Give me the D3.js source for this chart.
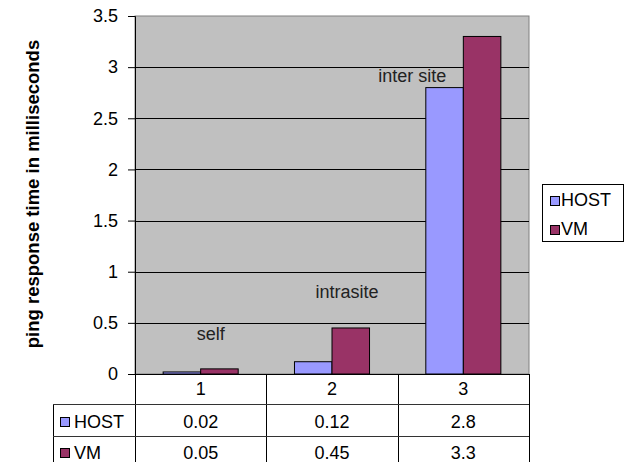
<!DOCTYPE html>
<html>
<head>
<meta charset="utf-8">
<script src="https://cdn.jsdelivr.net/npm/d3@7"></script>
<style>
  body { margin: 0; background: #fff; }
  svg { display: block; font-family: 'Liberation Sans', Arial, sans-serif; }
</style>
</head>
<body>
<svg id="chart"></svg>
<script>
const categories = ['1', '2', '3'];
const seriesNames = ['HOST', 'VM'];
const hostValues = [0.02, 0.12, 2.8];
const vmValues = [0.05, 0.45, 3.3];
const yTicks = [0, 0.5, 1, 1.5, 2, 2.5, 3, 3.5];
const noteText = ['self', 'intrasite', 'inter site'];
const noteValues = [0.33, 0.74, 2.85];

const colors = { HOST: '#9999ff', VM: '#993366' };
const seriesValues = { HOST: hostValues, VM: vmValues };

const W = 627, H = 462;
const plot = { left: 135, right: 529, top: 16, bottom: 374 };

const svg = d3.select('#chart')
    .attr('width', W)
    .attr('height', H);

const x0 = d3.scaleBand()
    .domain(categories)
    .range([plot.left, plot.right])
    .padding(0);

const gap = x0.bandwidth() * 0.75 / 3.5;
const x1 = d3.scaleBand()
    .domain(seriesNames)
    .range([gap, x0.bandwidth() - gap])
    .padding(0);

const y = d3.scaleLinear()
    .domain([0, 3.5])
    .range([plot.bottom, plot.top]);

// plot background
svg.append('rect')
    .attr('x', plot.left)
    .attr('y', plot.top)
    .attr('width', plot.right - plot.left)
    .attr('height', plot.bottom - plot.top)
    .attr('fill', '#c0c0c0')
    .attr('stroke', '#808080')
    .attr('stroke-width', 1);

// gridlines
svg.append('g')
    .selectAll('line')
    .data(yTicks.filter(t => t > 0 && t < 3.5))
    .enter().append('line')
    .attr('x1', plot.left)
    .attr('x2', plot.right)
    .attr('y1', d => Math.round(y(d)) + 0.5)
    .attr('y2', d => Math.round(y(d)) + 0.5)
    .attr('stroke', '#000');

// bars
const groups = svg.append('g')
    .selectAll('g')
    .data(categories)
    .enter().append('g')
    .attr('transform', d => `translate(${x0(d)},0)`);

groups.selectAll('rect')
    .data((d, i) => seriesNames.map(s => ({ s, v: seriesValues[s][i] })))
    .enter().append('rect')
    .attr('x', d => x1(d.s))
    .attr('y', d => y(d.v))
    .attr('width', x1.bandwidth())
    .attr('height', d => y(0) - y(d.v))
    .attr('fill', d => colors[d.s])
    .attr('stroke', '#000')
    .attr('stroke-width', 1);

// notes over bars
const noteDx = [10, 15, -51];
svg.append('g')
    .selectAll('text')
    .data(noteText)
    .enter().append('text')
    .attr('x', (d, i) => x0(categories[i]) + x0.bandwidth() / 2 + noteDx[i])
    .attr('y', (d, i) => y(noteValues[i]))
    .attr('text-anchor', 'middle')
    .attr('font-size', 18)
    .attr('fill', '#222')
    .text(d => d);

// y axis
const yAxis = svg.append('g')
    .attr('transform', `translate(${plot.left},0)`)
    .call(d3.axisLeft(y).tickValues(yTicks).tickSize(7).tickPadding(10).tickFormat(d3.format('')));
yAxis.select('.domain').attr('stroke', '#000');
yAxis.selectAll('.tick line').attr('stroke', '#000');
yAxis.selectAll('text')
    .attr('font-size', 18)
    .attr('font-family', "'Liberation Sans', Arial, sans-serif")
    .attr('fill', '#000');

// x axis line
svg.append('line')
    .attr('x1', plot.left - 7)
    .attr('x2', plot.right)
    .attr('y1', plot.bottom + 0.5)
    .attr('y2', plot.bottom + 0.5)
    .attr('stroke', '#000');

// y title
svg.append('text')
    .attr('transform', 'translate(39,194) rotate(-90)')
    .attr('text-anchor', 'middle')
    .attr('font-size', 18.5)
    .attr('font-weight', 'bold')
    .attr('fill', '#000')
    .text('ping response time in milliseconds');

// data table
const table = svg.append('g');
const rowTop = 404, rowH = 32, tableLeft = 53;
const colEdges = [plot.left].concat(categories.map(c => x0(c) + x0.bandwidth()));

table.selectAll('.vline')
    .data(colEdges)
    .enter().append('line')
    .attr('x1', d => Math.round(d) + 0.5)
    .attr('x2', d => Math.round(d) + 0.5)
    .attr('y1', plot.bottom)
    .attr('y2', H)
    .attr('stroke', '#000');

table.append('line')
    .attr('x1', tableLeft + 0.5).attr('x2', tableLeft + 0.5)
    .attr('y1', rowTop).attr('y2', H)
    .attr('stroke', '#000');

[rowTop, rowTop + rowH].forEach(yy => {
    table.append('line')
        .attr('x1', tableLeft)
        .attr('x2', plot.right)
        .attr('y1', yy + 0.5)
        .attr('y2', yy + 0.5)
        .attr('stroke', '#333');
});

table.selectAll('.cat')
    .data(categories)
    .enter().append('text')
    .attr('x', d => x0(d) + x0.bandwidth() / 2)
    .attr('y', 395)
    .attr('text-anchor', 'middle')
    .attr('font-size', 18)
    .text(d => d);

seriesNames.forEach((s, r) => {
    const base = 428 + r * 31;
    table.append('rect')
        .attr('x', 60.5)
        .attr('y', base - 10.5)
        .attr('width', 9)
        .attr('height', 9)
        .attr('fill', colors[s])
        .attr('stroke', '#000');
    table.append('text')
        .attr('x', 74)
        .attr('y', base)
        .attr('font-size', 18)
        .text(s);
    table.selectAll('.v' + s)
        .data(seriesValues[s])
        .enter().append('text')
        .attr('x', (d, i) => x0(categories[i]) + x0.bandwidth() / 2)
        .attr('y', base)
        .attr('text-anchor', 'middle')
        .attr('font-size', 18)
        .text(d => d);
});

// legend
const legend = svg.append('g');
legend.append('rect')
    .attr('x', 542.5)
    .attr('y', 184.5)
    .attr('width', 81)
    .attr('height', 57)
    .attr('fill', '#fff')
    .attr('stroke', '#000');

seriesNames.forEach((s, i) => {
    const base = 206 + i * 29;
    legend.append('rect')
        .attr('x', 550.5)
        .attr('y', base - 9.5)
        .attr('width', 9)
        .attr('height', 9)
        .attr('fill', colors[s])
        .attr('stroke', '#000');
    legend.append('text')
        .attr('x', 561)
        .attr('y', base)
        .attr('font-size', 18)
        .text(s);
});
</script>
</body>
</html>
